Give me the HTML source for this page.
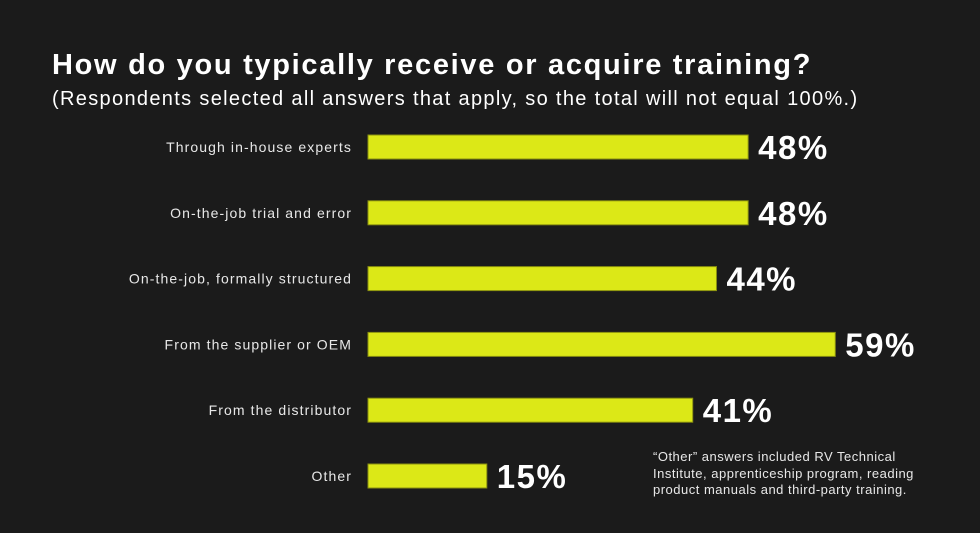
<!DOCTYPE html>
<html><head><meta charset="utf-8"><style>
body{margin:0;background:#1b1b1b;width:980px;height:533px;overflow:hidden;font-family:"Liberation Sans",sans-serif;position:relative}
.t{position:absolute;color:#fff;white-space:nowrap}
</style></head><body>
<div class="t" style="left:52px;top:49px;font-size:29px;font-weight:bold;letter-spacing:1.7px">How do you typically receive or acquire training?</div>
<div class="t" style="left:52px;top:88px;font-size:20px;letter-spacing:1.33px">(Respondents selected all answers that apply, so the total will not equal 100%.)</div>
<svg id="c" width="980" height="533" style="position:absolute;left:0;top:0"></svg>
<div class="t" style="left:653px;top:449px;font-size:13px;line-height:16.5px;color:#e8e8e8;letter-spacing:0.5px">“Other” answers included RV Technical<br>Institute, apprenticeship program, reading<br>product manuals and third-party training.</div>
<script>
const categories=["Through in-house experts","On-the-job trial and error","On-the-job, formally structured","From the supplier or OEM","From the distributor","Other"];
const values=[48,48,44,59,41,15];
const labels=["48%","48%","44%","59%","41%","15%"];
const svg=document.getElementById('c');const NS="http://www.w3.org/2000/svg";
const x0=368,k=7.92,y0=147,step=65.8,h=24;
function xs(v){return x0+v*k}
function yc(i){return y0+i*step}
categories.forEach((c,i)=>{
 const r=document.createElementNS(NS,'rect');
 
 
 r.setAttribute('x',x0);r.setAttribute('y',yc(i)-h/2);r.setAttribute('width',xs(values[i])-x0);r.setAttribute('height',h);
 r.setAttribute('fill','#dce817');r.setAttribute('stroke','#8a9010');r.setAttribute('stroke-width','1');
 svg.appendChild(r);
 const t=document.createElementNS(NS,'text');
 
 
 t.setAttribute('x',352);t.setAttribute('y',yc(i)+5);t.setAttribute('text-anchor','end');
 t.setAttribute('fill','#e8e8e8');t.setAttribute('font-size','14');t.setAttribute('letter-spacing','1.1');t.setAttribute('font-family','Liberation Sans, sans-serif');
 t.textContent=c;svg.appendChild(t);
 const v=document.createElementNS(NS,'text');
 
 
 v.setAttribute('x',xs(values[i])+10);v.setAttribute('y',yc(i)+12);
 v.setAttribute('fill','#fff');v.setAttribute('font-size','33');v.setAttribute('font-weight','bold');v.setAttribute('letter-spacing','1.5');v.setAttribute('font-family','Liberation Sans, sans-serif');
 v.textContent=labels[i];svg.appendChild(v);
});
</script>
</body></html>
